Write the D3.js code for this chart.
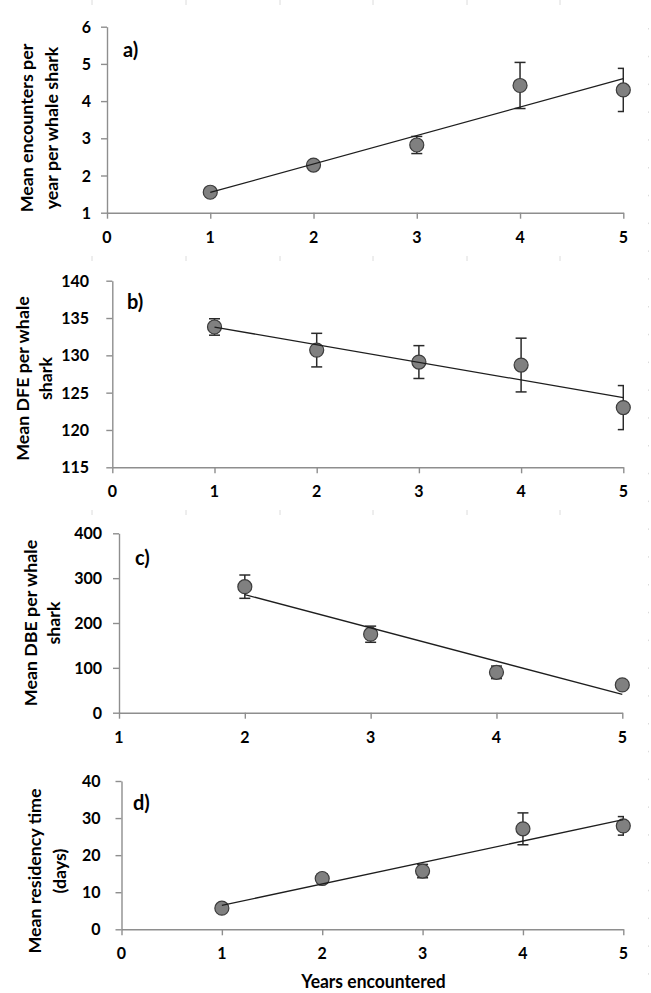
<!DOCTYPE html>
<html>
<head>
<meta charset="utf-8">
<script src="https://cdn.jsdelivr.net/npm/d3@7/dist/d3.min.js"></script>
<style>
  html, body { margin: 0; padding: 0; background: #fff; }
  svg { display: block; }
  text { font-family: Lato, "Open Sans", sans-serif; font-weight: bold; fill: #000; }
</style>
</head>
<body>
<svg id="chart" width="651" height="993"></svg>
<script>
// ---------------- data ----------------
const years = [1, 2, 3, 4, 5];
const encountersMean = [1.55, 2.28, 2.82, 4.42, 4.30];
const encountersErr  = [0.08, 0.08, 0.23, 0.62, 0.58];
const dfeMean = [133.8, 130.7, 129.1, 128.7, 123.0];
const dfeErr  = [1.1, 2.25, 2.2, 3.6, 2.95];
const dbeYears = [2, 3, 4, 5];
const dbeMean = [281, 175, 90, 62];
const dbeErr  = [26, 18, 14, 6];
const residencyMean = [5.7, 13.7, 15.7, 27.1, 27.9];
const residencyErr  = [0.8, 1.2, 1.8, 4.3, 2.5];

const xTicksFrom0 = [0, 1, 2, 3, 4, 5];
const xTicksFrom1 = [1, 2, 3, 4, 5];
const encountersTicks = [1, 2, 3, 4, 5, 6];
const dfeTicks = [115, 120, 125, 130, 135, 140];
const dbeTicks = [0, 100, 200, 300, 400];
const residencyTicks = [0, 10, 20, 30, 40];

const panelTags = ["a)", "b)", "c)", "d)"];
const yTitles = [
  ["Mean encounters per", "year per whale shark"],
  ["Mean DFE per whale", "shark"],
  ["Mean DBE per whale", "shark"],
  ["Mean residency time", "(days)"]
];
const xTitle = "Years encountered";

// ---------------- layout ----------------
const K = 1.06; // slight vertical stretch of the lettering
const panels = [
  { xs: years, ys: encountersMean, es: encountersErr, xDomain: [0, 5], xRange: [107, 623.3],
    yDomain: [1, 6], yRange: [212.7, 26.7], xTicks: xTicksFrom0, yTicks: encountersTicks,
    labelEnd: 91, titleX: [33, 58], titleY: 128, tagPos: [123, 57] },
  { xs: years, ys: dfeMean, es: dfeErr, xDomain: [0, 5], xRange: [112.3, 623.3],
    yDomain: [115, 140], yRange: [467.3, 280.7], xTicks: xTicksFrom0, yTicks: dfeTicks,
    labelEnd: 89, titleX: [29, 52], titleY: 378.5, tagPos: [127, 309] },
  { xs: dbeYears, ys: dbeMean, es: dbeErr, xDomain: [1, 5], xRange: [119, 622.3],
    yDomain: [0, 400], yRange: [712.7, 533.3], xTicks: xTicksFrom1, yTicks: dbeTicks,
    labelEnd: 102, titleX: [37, 59.5], titleY: 623, tagPos: [135, 565] },
  { xs: years, ys: residencyMean, es: residencyErr, xDomain: [0, 5], xRange: [121.5, 623.3],
    yDomain: [0, 40], yRange: [929.3, 781], xTicks: xTicksFrom0, yTicks: residencyTicks,
    labelEnd: 100.5, titleX: [41, 66], titleY: 871, tagPos: [133, 810] }
];

const svg = d3.select("#chart");
const defs = svg.append("defs");

// faint page-grid marks seen in the figure background
const deco = svg.append("g").attr("stroke", "#dcdcdc").attr("stroke-width", 1);
[0, 256, 510].forEach(ry => {
  [92, 186, 280, 373, 467, 560].forEach(rx => {
    deco.append("line").attr("x1", rx).attr("x2", rx).attr("y1", ry).attr("y2", ry + 5);
  });
});
for (let ry = 28; ry < 993; ry += 27.8) {
  deco.append("line").attr("x1", 648.5).attr("x2", 648.5).attr("y1", ry).attr("y2", ry + 1.5);
}

function linReg(xs, ys) {
  const n = xs.length;
  const mx = d3.mean(xs), my = d3.mean(ys);
  let sxy = 0, sxx = 0;
  for (let i = 0; i < n; i++) { sxy += (xs[i] - mx) * (ys[i] - my); sxx += (xs[i] - mx) ** 2; }
  const b = sxy / sxx;
  return x => my + b * (x - mx);
}

panels.forEach((p, i) => {
  const x = d3.scaleLinear().domain(p.xDomain).range(p.xRange);
  const y = d3.scaleLinear().domain(p.yDomain).range(p.yRange);
  const g = svg.append("g");
  const axisColor = "#8e8e8e";

  // axis lines and tick marks (labels drawn separately below)
  const xAxis = g.append("g")
    .attr("transform", `translate(0,${p.yRange[0]})`)
    .call(d3.axisBottom(x).tickValues(p.xTicks).tickFormat("").tickSize(6).tickSizeOuter(0));
  const yAxis = g.append("g")
    .attr("transform", `translate(${p.xRange[0]},0)`)
    .call(d3.axisLeft(y).tickValues(p.yTicks).tickFormat("").tickSize(6).tickSizeOuter(0));
  [xAxis, yAxis].forEach(a => {
    a.select(".domain").attr("stroke", axisColor).attr("stroke-width", 1.4);
    a.selectAll(".tick line").attr("stroke", axisColor).attr("stroke-width", 1.4);
    a.selectAll(".tick text").remove();
  });

  // tick labels
  g.append("g").selectAll("text").data(p.xTicks).join("text")
    .attr("transform", d => `translate(${x(d)},${p.yRange[0] + 30}) scale(1,${K})`)
    .attr("text-anchor", "middle").style("font-size", "16px").text(d => d);
  g.append("g").selectAll("text").data(p.yTicks).join("text")
    .attr("transform", d => `translate(${p.labelEnd},${y(d) + 6}) scale(1,${K})`)
    .attr("text-anchor", "end").style("font-size", "16px").text(d => d);

  const clipId = "clip" + i;
  defs.append("clipPath").attr("id", clipId).append("rect")
    .attr("x", 0).attr("y", 0).attr("width", p.xRange[1] + 0.8).attr("height", 993);

  const pts = p.xs.map((d, j) => ({ x: d, y: p.ys[j], e: p.es[j] }));

  const eb = g.append("g").attr("clip-path", `url(#${clipId})`)
    .attr("stroke", "#2a2a2a").attr("stroke-width", 1.5).attr("fill", "none");
  pts.forEach(d => {
    const cx = x(d.x), y1 = y(d.y + d.e), y2 = y(d.y - d.e);
    eb.append("line").attr("x1", cx).attr("x2", cx).attr("y1", y1).attr("y2", y2);
    eb.append("line").attr("x1", cx - 5.5).attr("x2", cx + 5.5).attr("y1", y1).attr("y2", y1);
    eb.append("line").attr("x1", cx - 5.5).attr("x2", cx + 5.5).attr("y1", y2).attr("y2", y2);
  });

  g.append("g").selectAll("circle").data(pts).join("circle")
    .attr("cx", d => x(d.x)).attr("cy", d => y(d.y)).attr("r", 7)
    .attr("fill", "#808080").attr("stroke", "#3c3c3c").attr("stroke-width", 1.2);

  const f = linReg(p.xs, p.ys);
  const xExt = d3.extent(p.xs);
  g.append("line")
    .attr("x1", x(xExt[0])).attr("y1", y(f(xExt[0])))
    .attr("x2", x(xExt[1])).attr("y2", y(f(xExt[1])))
    .attr("stroke", "#1e1e1e").attr("stroke-width", 1.3);

  g.append("text").attr("transform", `translate(${p.tagPos[0]},${p.tagPos[1]}) scale(1,${K})`)
    .style("font-size", "20px").text(panelTags[i]);

  yTitles[i].forEach((t, li) => {
    g.append("text")
      .attr("transform", `translate(${p.titleX[li]},${p.titleY}) scale(1,${K}) rotate(-90)`)
      .attr("text-anchor", "middle").style("font-size", "16.8px").text(t);
  });
});

svg.append("text").attr("transform", `translate(373.5,988) scale(1,${K})`)
  .attr("text-anchor", "middle").style("font-size", "17.5px").text(xTitle);
</script>
</body>
</html>
